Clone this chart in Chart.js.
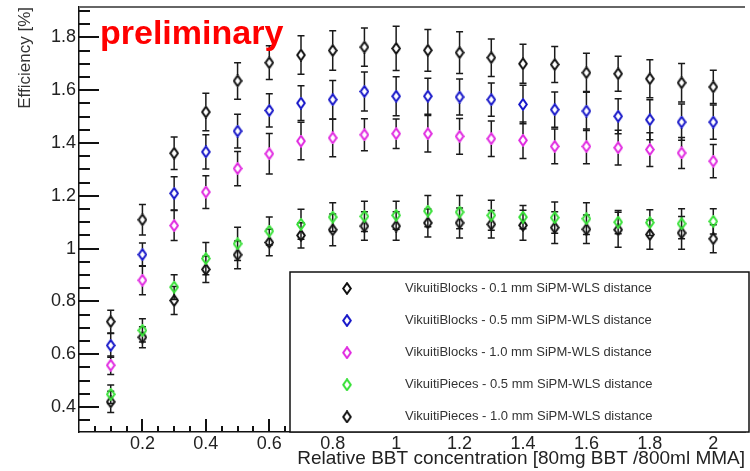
<!DOCTYPE html>
<html>
<head>
<meta charset="utf-8">
<script src="https://cdn.jsdelivr.net/npm/chart.js@4/dist/chart.umd.min.js"></script>
<style>
  html, body { margin: 0; padding: 0; background: #fff; }
  canvas { display: block; }
</style>
</head>
<body>
<canvas id="effChart" width="750" height="471"></canvas>
<script>
const xValues = [0.1, 0.2, 0.3, 0.4, 0.5, 0.6, 0.7, 0.8, 0.9, 1.0, 1.1, 1.2, 1.3, 1.4, 1.5, 1.6, 1.7, 1.8, 1.9, 2.0]

const blocks01 = [0.723, 1.109, 1.361, 1.517, 1.635, 1.704, 1.733, 1.750, 1.763, 1.758, 1.751, 1.742, 1.723, 1.700, 1.697, 1.666, 1.662, 1.643, 1.628, 1.612]
const blocks01Err = [0.043, 0.058, 0.062, 0.071, 0.069, 0.064, 0.073, 0.075, 0.072, 0.084, 0.079, 0.079, 0.071, 0.074, 0.068, 0.074, 0.066, 0.072, 0.073, 0.063]

const blocks05 = [0.633, 0.977, 1.209, 1.366, 1.445, 1.523, 1.551, 1.564, 1.595, 1.577, 1.577, 1.574, 1.564, 1.546, 1.526, 1.521, 1.501, 1.488, 1.479, 1.479]
const blocks05Err = [0.045, 0.044, 0.063, 0.065, 0.064, 0.063, 0.066, 0.073, 0.074, 0.074, 0.068, 0.068, 0.063, 0.073, 0.067, 0.074, 0.066, 0.076, 0.069, 0.065]

const blocks10 = [0.558, 0.880, 1.087, 1.214, 1.303, 1.359, 1.407, 1.419, 1.431, 1.435, 1.435, 1.425, 1.416, 1.410, 1.387, 1.387, 1.382, 1.375, 1.362, 1.331]
const blocks10Err = [0.035, 0.055, 0.057, 0.062, 0.065, 0.077, 0.071, 0.071, 0.061, 0.056, 0.069, 0.068, 0.067, 0.069, 0.066, 0.066, 0.066, 0.064, 0.059, 0.063]

const pieces05 = [0.448, 0.690, 0.854, 0.962, 1.018, 1.066, 1.092, 1.119, 1.122, 1.126, 1.142, 1.138, 1.126, 1.119, 1.117, 1.113, 1.100, 1.098, 1.094, 1.103]
const pieces05Err = [0.035, 0.044, 0.047, 0.061, 0.063, 0.053, 0.057, 0.054, 0.057, 0.053, 0.059, 0.063, 0.057, 0.044, 0.059, 0.060, 0.044, 0.049, 0.057, 0.048]

const pieces10 = [0.419, 0.664, 0.803, 0.921, 0.976, 1.023, 1.050, 1.071, 1.085, 1.085, 1.097, 1.097, 1.092, 1.088, 1.079, 1.073, 1.071, 1.053, 1.059, 1.037]
const pieces10Err = [0.040, 0.040, 0.053, 0.050, 0.053, 0.050, 0.048, 0.060, 0.054, 0.054, 0.053, 0.057, 0.052, 0.057, 0.060, 0.054, 0.066, 0.056, 0.062, 0.053]

const seriesLabels = [
    'VikuitiBlocks - 0.1 mm SiPM-WLS distance',
    'VikuitiBlocks - 0.5 mm SiPM-WLS distance',
    'VikuitiBlocks - 1.0 mm SiPM-WLS distance',
    'VikuitiPieces - 0.5 mm SiPM-WLS distance',
    'VikuitiPieces - 1.0 mm SiPM-WLS distance'
]

const xTicks = [0.2, 0.4, 0.6, 0.8, 1.0, 1.2, 1.4, 1.6, 1.8, 2.0]
const xTickLabels = ['0.2', '0.4', '0.6', '0.8', '1', '1.2', '1.4', '1.6', '1.8', '2']
const yTicks = [0.4, 0.6, 0.8, 1.0, 1.2, 1.4, 1.6, 1.8]
const yTickLabels = ['0.4', '0.6', '0.8', '1', '1.2', '1.4', '1.6', '1.8']

const FONT = "'Liberation Sans', Arial, Helvetica, sans-serif"

// open diamond marker, like ROOT's kOpenDiamond
function diamond(color) {
    const c = document.createElement('canvas')
    c.width = 10
    c.height = 13
    const g = c.getContext('2d')
    g.strokeStyle = color
    g.lineWidth = 2
    g.beginPath()
    g.moveTo(5, 1.2)
    g.lineTo(8.8, 6.5)
    g.lineTo(5, 11.8)
    g.lineTo(1.2, 6.5)
    g.closePath()
    g.stroke()
    return c
}

function series(label, values, errors, color) {
    return {
        label: label,
        data: xValues.map((x, i) => ({ x: x, y: values[i] })),
        errors: errors,
        pointStyle: diamond(color),
        showLine: false,
        borderColor: color,
        backgroundColor: color
    }
}

const errorBars = {
    id: 'errorBars',
    beforeDatasetsDraw(chart) {
        const ctx = chart.ctx
        const xs = chart.scales.x
        const ys = chart.scales.y
        ctx.save()
        ctx.strokeStyle = '#1a1a1a'
        ctx.lineWidth = 1.5
        chart.data.datasets.forEach(ds => {
            ds.data.forEach((p, i) => {
                const e = ds.errors[i]
                const px = xs.getPixelForValue(p.x)
                const py = ys.getPixelForValue(p.y)
                const top = ys.getPixelForValue(p.y + e)
                const bot = ys.getPixelForValue(p.y - e)
                ctx.beginPath()
                if (top < py - 6) { ctx.moveTo(px, top); ctx.lineTo(px, py - 6) }
                if (bot > py + 6) { ctx.moveTo(px, py + 6); ctx.lineTo(px, bot) }
                ctx.moveTo(px - 3.5, top); ctx.lineTo(px + 3.5, top)
                ctx.moveTo(px - 3.5, bot); ctx.lineTo(px + 3.5, bot)
                ctx.stroke()
            })
        })
        ctx.restore()
    }
}

// ROOT style ticks pointing into the frame, with minor divisions
const innerTicks = {
    id: 'innerTicks',
    afterDraw(chart) {
        const ctx = chart.ctx
        const xs = chart.scales.x
        const ys = chart.scales.y
        const left = Math.round(xs.getPixelForValue(0))
        const bottom = Math.round(ys.getPixelForValue(0.305))
        ctx.save()
        ctx.fillStyle = '#111111'
        for (let k = 1; k <= 41; k++) {
            const x = Math.round(xs.getPixelForValue(k * 0.05))
            const len = k % 4 === 0 ? 13 : 6
            ctx.fillRect(x - 1, bottom - len, 2, len)
        }
        for (let k = 7; k <= 38; k++) {
            const y = Math.round(ys.getPixelForValue(k * 0.05))
            ctx.fillRect(left, y - 1, k % 4 === 0 ? 20 : 11, 2)
        }
        ctx.restore()
    }
}

const frameAndLegend = {
    id: 'frameAndLegend',
    afterDraw(chart) {
        const ctx = chart.ctx
        const xs = chart.scales.x
        const ys = chart.scales.y
        const left = xs.getPixelForValue(0)
        const right = xs.getPixelForValue(2.1)
        const top = ys.getPixelForValue(1.915)
        const bottom = ys.getPixelForValue(0.305)
        ctx.save()

        // top frame line
        ctx.fillStyle = '#666'
        ctx.fillRect(left, top - 1, right - left, 2)

        // legend box
        const lx = 290, ly = 272
        ctx.fillStyle = '#fff'
        ctx.fillRect(lx, ly, right - lx + 2, bottom - ly)
        ctx.strokeStyle = '#111'
        ctx.lineWidth = 1.5
        ctx.strokeRect(lx, ly, right - lx + 4, bottom - ly)
        ctx.font = '13px ' + FONT
        ctx.fillStyle = '#333'
        ctx.textBaseline = 'middle'
        chart.data.datasets.forEach((ds, i) => {
            const y = 288.5 + i * 32.1
            const img = ds.pointStyle
            ctx.drawImage(img, 347 - img.width / 2, y - img.height / 2)
            ctx.fillText(ds.label, 405, y)
        })

        // preliminary tag
        ctx.font = 'bold 34px ' + FONT
        ctx.fillStyle = '#ff0000'
        ctx.textBaseline = 'alphabetic'
        ctx.fillText('preliminary', 100, 44)
        ctx.restore()
    }
}

new Chart(document.getElementById('effChart'), {
    type: 'scatter',
    data: {
        datasets: [
            series(seriesLabels[0], blocks01, blocks01Err, '#111111'),
            series(seriesLabels[1], blocks05, blocks05Err, '#1515c8'),
            series(seriesLabels[2], blocks10, blocks10Err, '#e028e0'),
            series(seriesLabels[3], pieces05, pieces05Err, '#35e035'),
            series(seriesLabels[4], pieces10, pieces10Err, '#111111')
        ]
    },
    options: {
        responsive: false,
        animation: false,
        devicePixelRatio: 1,
        events: [],
        layout: { padding: { top: 7, right: 0, left: 0, bottom: 0 } },
        plugins: {
            legend: { display: false },
            tooltip: { enabled: false }
        },
        scales: {
            x: {
                type: 'linear',
                position: 'bottom',
                min: 0,
                max: 2.1,
                afterFit(scale) {
                    scale.height = 39
                    scale.paddingLeft = 0
                    scale.paddingRight = 0
                },
                afterBuildTicks(scale) { scale.ticks = xTicks.map(v => ({ value: v })) },
                grid: { display: false, drawTicks: false, tickLength: 0 },
                border: { display: true, color: '#111', width: 1.5 },
                ticks: {
                    autoSkip: false,
                    maxRotation: 0,
                    padding: 1,
                    color: '#222',
                    font: { family: FONT, size: 18 },
                    callback: (v, i) => xTickLabels[i]
                },
                title: {
                    display: true,
                    text: 'Relative BBT concentration [80mg BBT /800ml MMA]',
                    align: 'end',
                    color: '#222',
                    font: { family: FONT, size: 19 },
                    padding: { top: 0, bottom: 1 }
                }
            },
            y: {
                type: 'linear',
                min: 0.305,
                max: 1.915,
                afterFit(scale) {
                    scale.width = 79
                    scale.paddingTop = 0
                    scale.paddingBottom = 0
                },
                afterBuildTicks(scale) { scale.ticks = yTicks.map(v => ({ value: v })) },
                grid: { display: false, drawTicks: false, tickLength: 0 },
                border: { display: true, color: '#111', width: 1.5 },
                ticks: {
                    padding: 3,
                    color: '#222',
                    font: { family: FONT, size: 18 },
                    callback: (v, i) => yTickLabels[i]
                },
                title: {
                    display: true,
                    text: 'Efficiency [%]',
                    align: 'end',
                    color: '#333',
                    font: { family: FONT, size: 17 },
                    padding: { top: 15, bottom: 0 }
                }
            }
        }
    },
    plugins: [errorBars, innerTicks, frameAndLegend]
})
</script>
</body>
</html>
